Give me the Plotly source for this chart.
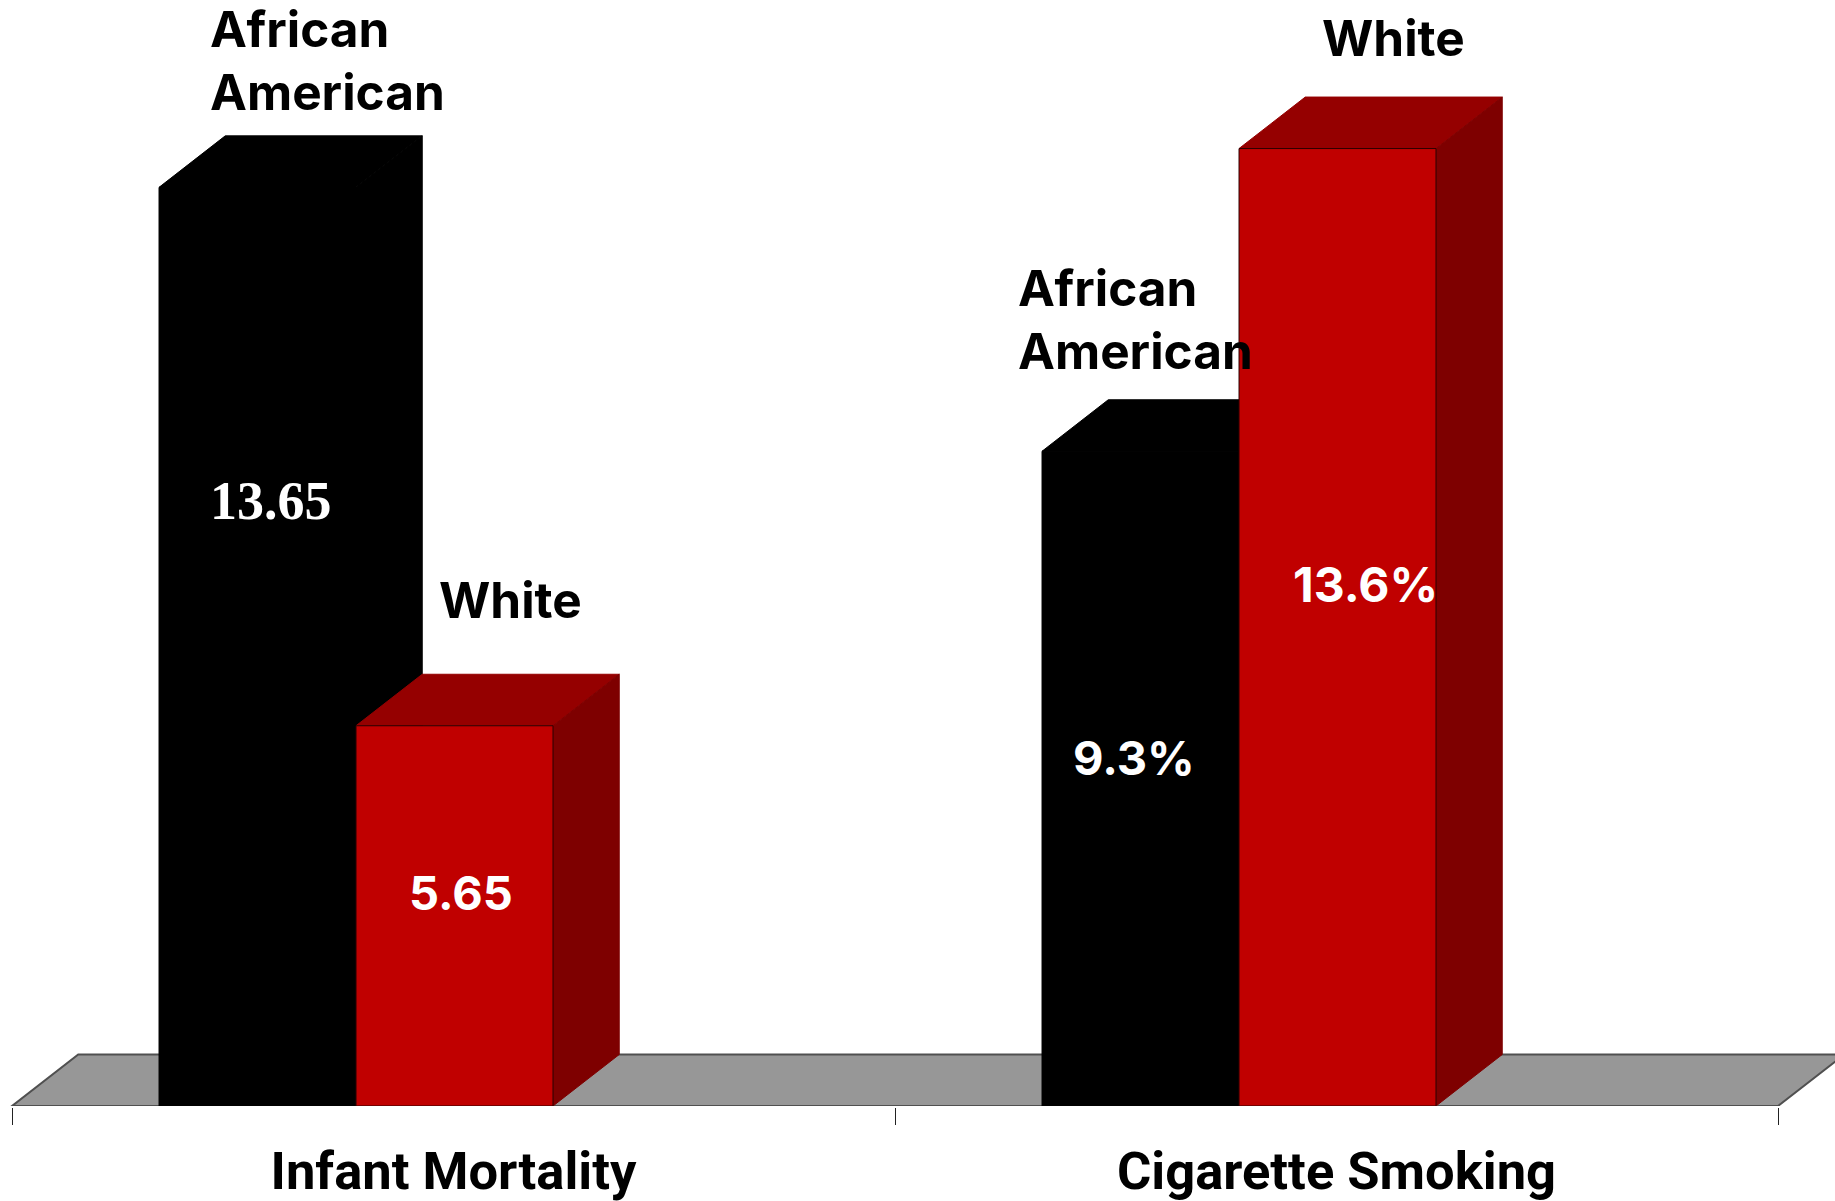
# Two paired pseudo-3D bar groups: infant mortality and cigarette smoking by race.
import plotly.graph_objects as go

categories = ["Infant Mortality", "Cigarette Smoking"]
series = ["African American", "White"]
infant_mortality = [13.65, 5.65]
cigarette_smoking = [9.3, 13.6]
value_labels_infant = ["13.65", "5.65"]
value_labels_smoking = ["9.3%", "13.6%"]

# Geometry of the drawing, in axis units (one category spans one x unit).
BAR_WIDTH = 0.2231
BAR_LEFT = 0.1665
DEPTH_X = 0.0750
LEFT_TOP = 1106 / 67.3
RIGHT_TOP = 1106 / 70.4
DEPTH_Y_LEFT = 51.5 / 67.3
DEPTH_Y_RIGHT = 51.5 / 70.4
X_MIN = -12 / 883
X_MAX = 1823 / 883

BLACK = "#000000"
RED_FRONT = "#c00000"
RED_TOP = "#950000"
RED_SIDE = "#7e0000"
FLOOR = "#979797"
FLOOR_EDGE = "#505050"
SANS = "Inter, 'Noto Sans', sans-serif"


def face(xs, ys, color, yaxis, z, edge=None):
    return go.Scatter(
        x=xs, y=ys, yaxis=yaxis, mode="lines", fill="toself", fillcolor=color,
        line=dict(color=edge or color, width=1), hoverinfo="skip",
        showlegend=False, zorder=z,
    )


def bar_faces(x0, value, color_top, color_side, yaxis, depth_y, z):
    x1 = x0 + BAR_WIDTH
    top = face([x0, x1, x1 + DEPTH_X, x0 + DEPTH_X, x0],
               [value, value, value + depth_y, value + depth_y, value],
               color_top, yaxis, z)
    side = face([x1, x1 + DEPTH_X, x1 + DEPTH_X, x1, x1],
                [0, depth_y, value + depth_y, value, 0],
                color_side, yaxis, z)
    return [top, side]


def front(x0, value, name, color, edge, yaxis, z):
    return go.Bar(
        x=[x0 + BAR_WIDTH / 2], y=[value], width=[BAR_WIDTH], name=name,
        marker=dict(color=color, line=dict(color=edge, width=1)),
        yaxis=yaxis, hoverinfo="skip", showlegend=False, zorder=z,
    )


fig = go.Figure()
groups = [
    (0, infant_mortality, "y", DEPTH_Y_LEFT),
    (1, cigarette_smoking, "y2", DEPTH_Y_RIGHT),
]
for offset, values, axis, depth in groups:
    x_black = offset + BAR_LEFT
    x_red = x_black + BAR_WIDTH
    for trace in bar_faces(x_black, values[0], BLACK, BLACK, axis, depth, 1):
        fig.add_trace(trace)
    fig.add_trace(front(x_black, values[0], series[0], BLACK, BLACK, axis, 2))
    for trace in bar_faces(x_red, values[1], RED_TOP, RED_SIDE, axis, depth, 3):
        fig.add_trace(trace)
    fig.add_trace(front(x_red, values[1], series[1], RED_FRONT, "#2a0000", axis, 4))

# Hidden trace that keeps the category axis alive.
fig.add_trace(go.Scatter(x=[0.5, 1.5], y=[0, 0], xaxis="x2", mode="none",
                         hoverinfo="skip", showlegend=False))

fig.add_shape(
    type="path", xref="x", yref="y", layer="below",
    path=(f"M 0 0 L 2 0 L {2 + DEPTH_X} {DEPTH_Y_LEFT} "
          f"L {DEPTH_X} {DEPTH_Y_LEFT} Z"),
    fillcolor=FLOOR, line=dict(color=FLOOR_EDGE, width=2),
)


def note(text, x, y, yref, color="#000000", size=49.5, family=SANS, anchor="left"):
    fig.add_annotation(
        text=text, x=x, y=y, xref="x", yref=yref, showarrow=False,
        xanchor=anchor, yanchor="middle",
        font=dict(family=family, size=size, color=color, weight="bold"),
    )


note("African", 0.2223, 16.0, "y")
note("American", 0.2223, 15.07, "y")
note("White", 0.564, 7.52, "y", anchor="center")
note(value_labels_infant[0], 0.2932, 8.99, "y", color="#ffffff", size=54,
     family="'Liberation Serif', serif", anchor="center")
note(value_labels_infant[1], 0.5087, 3.17, "y", color="#ffffff", size=47, anchor="center")

note("African", 1.1369, 11.62, "y2")
note("American", 1.1369, 10.72, "y2")
note("White", 1.565, 15.17, "y2", anchor="center")
note(value_labels_smoking[0], 1.2707, 4.95, "y2", color="#ffffff", size=47, anchor="center")
note(value_labels_smoking[1], 1.5325, 7.41, "y2", color="#ffffff", size=48, anchor="center")

y_domain = [95 / 1201, 1]
fig.update_layout(
    width=1835, height=1201, margin=dict(l=0, r=0, t=0, b=0),
    paper_bgcolor="#ffffff", plot_bgcolor="rgba(0,0,0,0)",
    barmode="overlay", showlegend=False,
    xaxis=dict(
        range=[X_MIN, X_MAX], domain=[0, 1], tickvals=[0, 1, 2], ticktext=["", "", ""],
        ticks="outside", ticklen=17, tickwidth=1, tickcolor="#222222", automargin=False,
        showline=True, linecolor=FLOOR_EDGE, linewidth=2, showgrid=False, zeroline=False,
    ),
    xaxis2=dict(
        range=[X_MIN, X_MAX], domain=[0, 1], overlaying="x", anchor="y", side="bottom",
        tickvals=[0.5, 1.5], ticktext=categories, ticks="outside", ticklen=19,
        automargin=False,
        tickcolor="rgba(0,0,0,0)", showline=False, showgrid=False, zeroline=False,
        tickfont=dict(family="Roboto, sans-serif", size=52.5, color="#000000", weight="bold"),
    ),
    yaxis=dict(range=[0, LEFT_TOP], domain=y_domain, visible=False, automargin=False),
    yaxis2=dict(range=[0, RIGHT_TOP], domain=y_domain, visible=False, automargin=False,
                overlaying="y", anchor="x"),
)

fig.write_html("out.html", config=dict(displayModeBar=False))
